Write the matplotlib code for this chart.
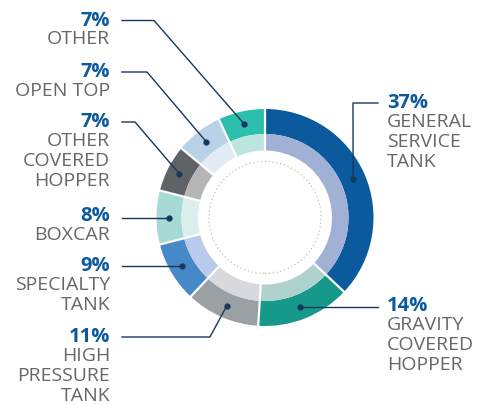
import numpy as np
import matplotlib.pyplot as plt

# railcar fleet share, clockwise from 12 o'clock
categories = ['GENERAL\nSERVICE\nTANK', 'GRAVITY\nCOVERED\nHOPPER', 'HIGH\nPRESSURE\nTANK',
              'SPECIALTY\nTANK', 'BOXCAR', 'OTHER\nCOVERED\nHOPPER', 'OPEN TOP', 'OTHER']
shares = [37, 14, 11, 9, 8, 7, 7, 7]
outer_colors = ['#0B5A9E', '#16998A', '#9BA0A4', '#4689C8', '#A7D9D5', '#5F6366', '#B7D2E6', '#2DBFAE']
inner_colors = ['#A1B0D5', '#B0D2CF', '#D7D9DC', '#B9CBEA', '#D9EFEC', '#B5B5B5', '#E2EBF4', '#BDE5E0']

W, H = 490, 404
cx, cy = 265, H - 217.5
r_out, r_mid, r_in = 108.5, 83.5, 67
blue = '#0B5A9E'
grey = '#66676A'
navy = '#17375E'

# label placement (pixel coords, y down): side, percent y, elbow
label_pos = [
    ('R', 103, (353, 103)),
    ('R', 306, None),
    ('L', 337, (210, 337)),
    ('L', 266, None),
    ('L', 216, None),
    ('L', 122, (135, 122)),
    ('L', 72, (147, 72)),
    ('L', 20.5, (154, 20.5)),
]

plt.rcParams['font.family'] = ['Open Sans', 'DejaVu Sans']
fig = plt.figure(figsize=(W / 100, H / 100), dpi=100)
ax = fig.add_axes([0, 0, 1, 1])

ax.pie(shares, colors=outer_colors, radius=r_out, center=(cx, cy), startangle=90,
       counterclock=False, wedgeprops=dict(width=r_out - r_mid, linewidth=0))
ax.pie(shares, colors=inner_colors, radius=r_mid, center=(cx, cy), startangle=90,
       counterclock=False, wedgeprops=dict(width=r_mid - r_in, linewidth=0))

# white radial separators
bounds = 90 - 360 * np.concatenate([[0], np.cumsum(shares)]) / sum(shares)
for a in bounds[:-1]:
    t = np.radians(a)
    ax.plot([cx + (r_in - 1) * np.cos(t), cx + (r_out + 1) * np.cos(t)],
            [cy + (r_in - 1) * np.sin(t), cy + (r_out + 1) * np.sin(t)],
            color='white', lw=1.6, solid_capstyle='butt')

ax.add_patch(plt.Circle((cx, cy), 56, fill=False, ls=(0, (1, 2.5)), lw=0.8, color='#B0B0B0'))

mids = (bounds[:-1] + bounds[1:]) / 2
for cat, val, mid, (side, py, elbow) in zip(categories, shares, mids, label_pos):
    t = np.radians(mid)
    dx, dy = cx + 96 * np.cos(t), cy + 96 * np.sin(t)
    y = H - py
    if side == 'L':
        tx, ha, x0 = 110, 'right', 122
    else:
        tx, ha, x0 = 387, 'left', 378
    if elbow is None:
        xs, ys = [x0, dx], [dy, dy]
    else:
        xs, ys = [x0, elbow[0], dx], [y, H - elbow[1], dy]
    ax.plot(xs, ys, color=navy, lw=1.0)
    ax.plot(dx, dy, 'o', color=navy, ms=3.5)
    ax.text(tx, y, f'{val}%', ha=ha, va='center', color=blue, fontsize=14.5, fontweight='bold')
    ax.text(tx, y - 10, cat, ha=ha, va='top', color=grey, fontsize=14, linespacing=1.15)

ax.set_xlim(0, W)
ax.set_ylim(0, H)
ax.set_aspect('equal')
ax.axis('off')
fig.savefig('out.png', dpi=100)
